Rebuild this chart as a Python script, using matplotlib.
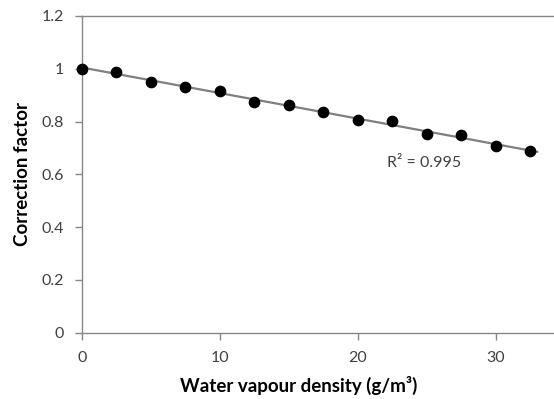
import numpy as np
import matplotlib
matplotlib.use("Agg")
import matplotlib.pyplot as plt

x_vals = [0, 2.5, 5, 7.5, 10, 12.5, 15, 17.5, 20, 22.5, 25, 27.5, 30, 32.5]
y_vals = [1.0, 0.989, 0.951, 0.932, 0.916, 0.874, 0.862, 0.835, 0.806, 0.802, 0.753, 0.748, 0.708, 0.689]
x_ticks = [0, 10, 20, 30]
y_ticks = [0, 0.2, 0.4, 0.6, 0.8, 1.0, 1.2]
y_ticklabels = ["0", "0.2", "0.4", "0.6", "0.8", "1", "1.2"]
r2_label = "R² = 0.995"

plt.rcParams['font.family'] = ['Lato', 'DejaVu Sans']

fig = plt.figure(figsize=(5.54, 3.99), dpi=100)
ax = fig.add_axes([0.1475, 0.166, 0.872, 0.794])

x = np.array(x_vals)
y = np.array(y_vals)
coef = np.polyfit(x, y, 1)
xf = np.array([x.min(), x.max() + 0.5])
ax.plot(xf, np.polyval(coef, xf), color='#7f7f7f', lw=1.6, zorder=2)
ax.scatter(x, y, s=55, color='black', zorder=3, clip_on=False)

ax.set_xlim(0, 35)
ax.set_ylim(0, 1.2)
ax.set_xticks(x_ticks)
ax.set_yticks(y_ticks)
ax.set_yticklabels(y_ticklabels)

grey = '#868686'
for s in ['left', 'bottom', 'top']:
    ax.spines[s].set_color(grey)
    ax.spines[s].set_linewidth(1.0)
ax.spines['right'].set_visible(False)
ax.tick_params(axis='both', direction='out', length=5, width=1, color=grey,
               labelcolor='#404040', labelsize=11.5)
ax.tick_params(axis='x', pad=8)
ax.tick_params(axis='y', pad=8)

ax.text(22.1, 0.643, r2_label, fontsize=11.5, color='#404040', va='center', ha='left')

fig.text(0.54, 0.035, "Water vapour density (g/m³)", fontsize=13.5, fontweight='bold',
         ha='center', va='center', color='black')
fig.text(0.04, 0.565, "Correction factor", fontsize=13.5, fontweight='bold',
         ha='center', va='center', rotation=90, color='black')

fig.savefig("out.png", dpi=100)
